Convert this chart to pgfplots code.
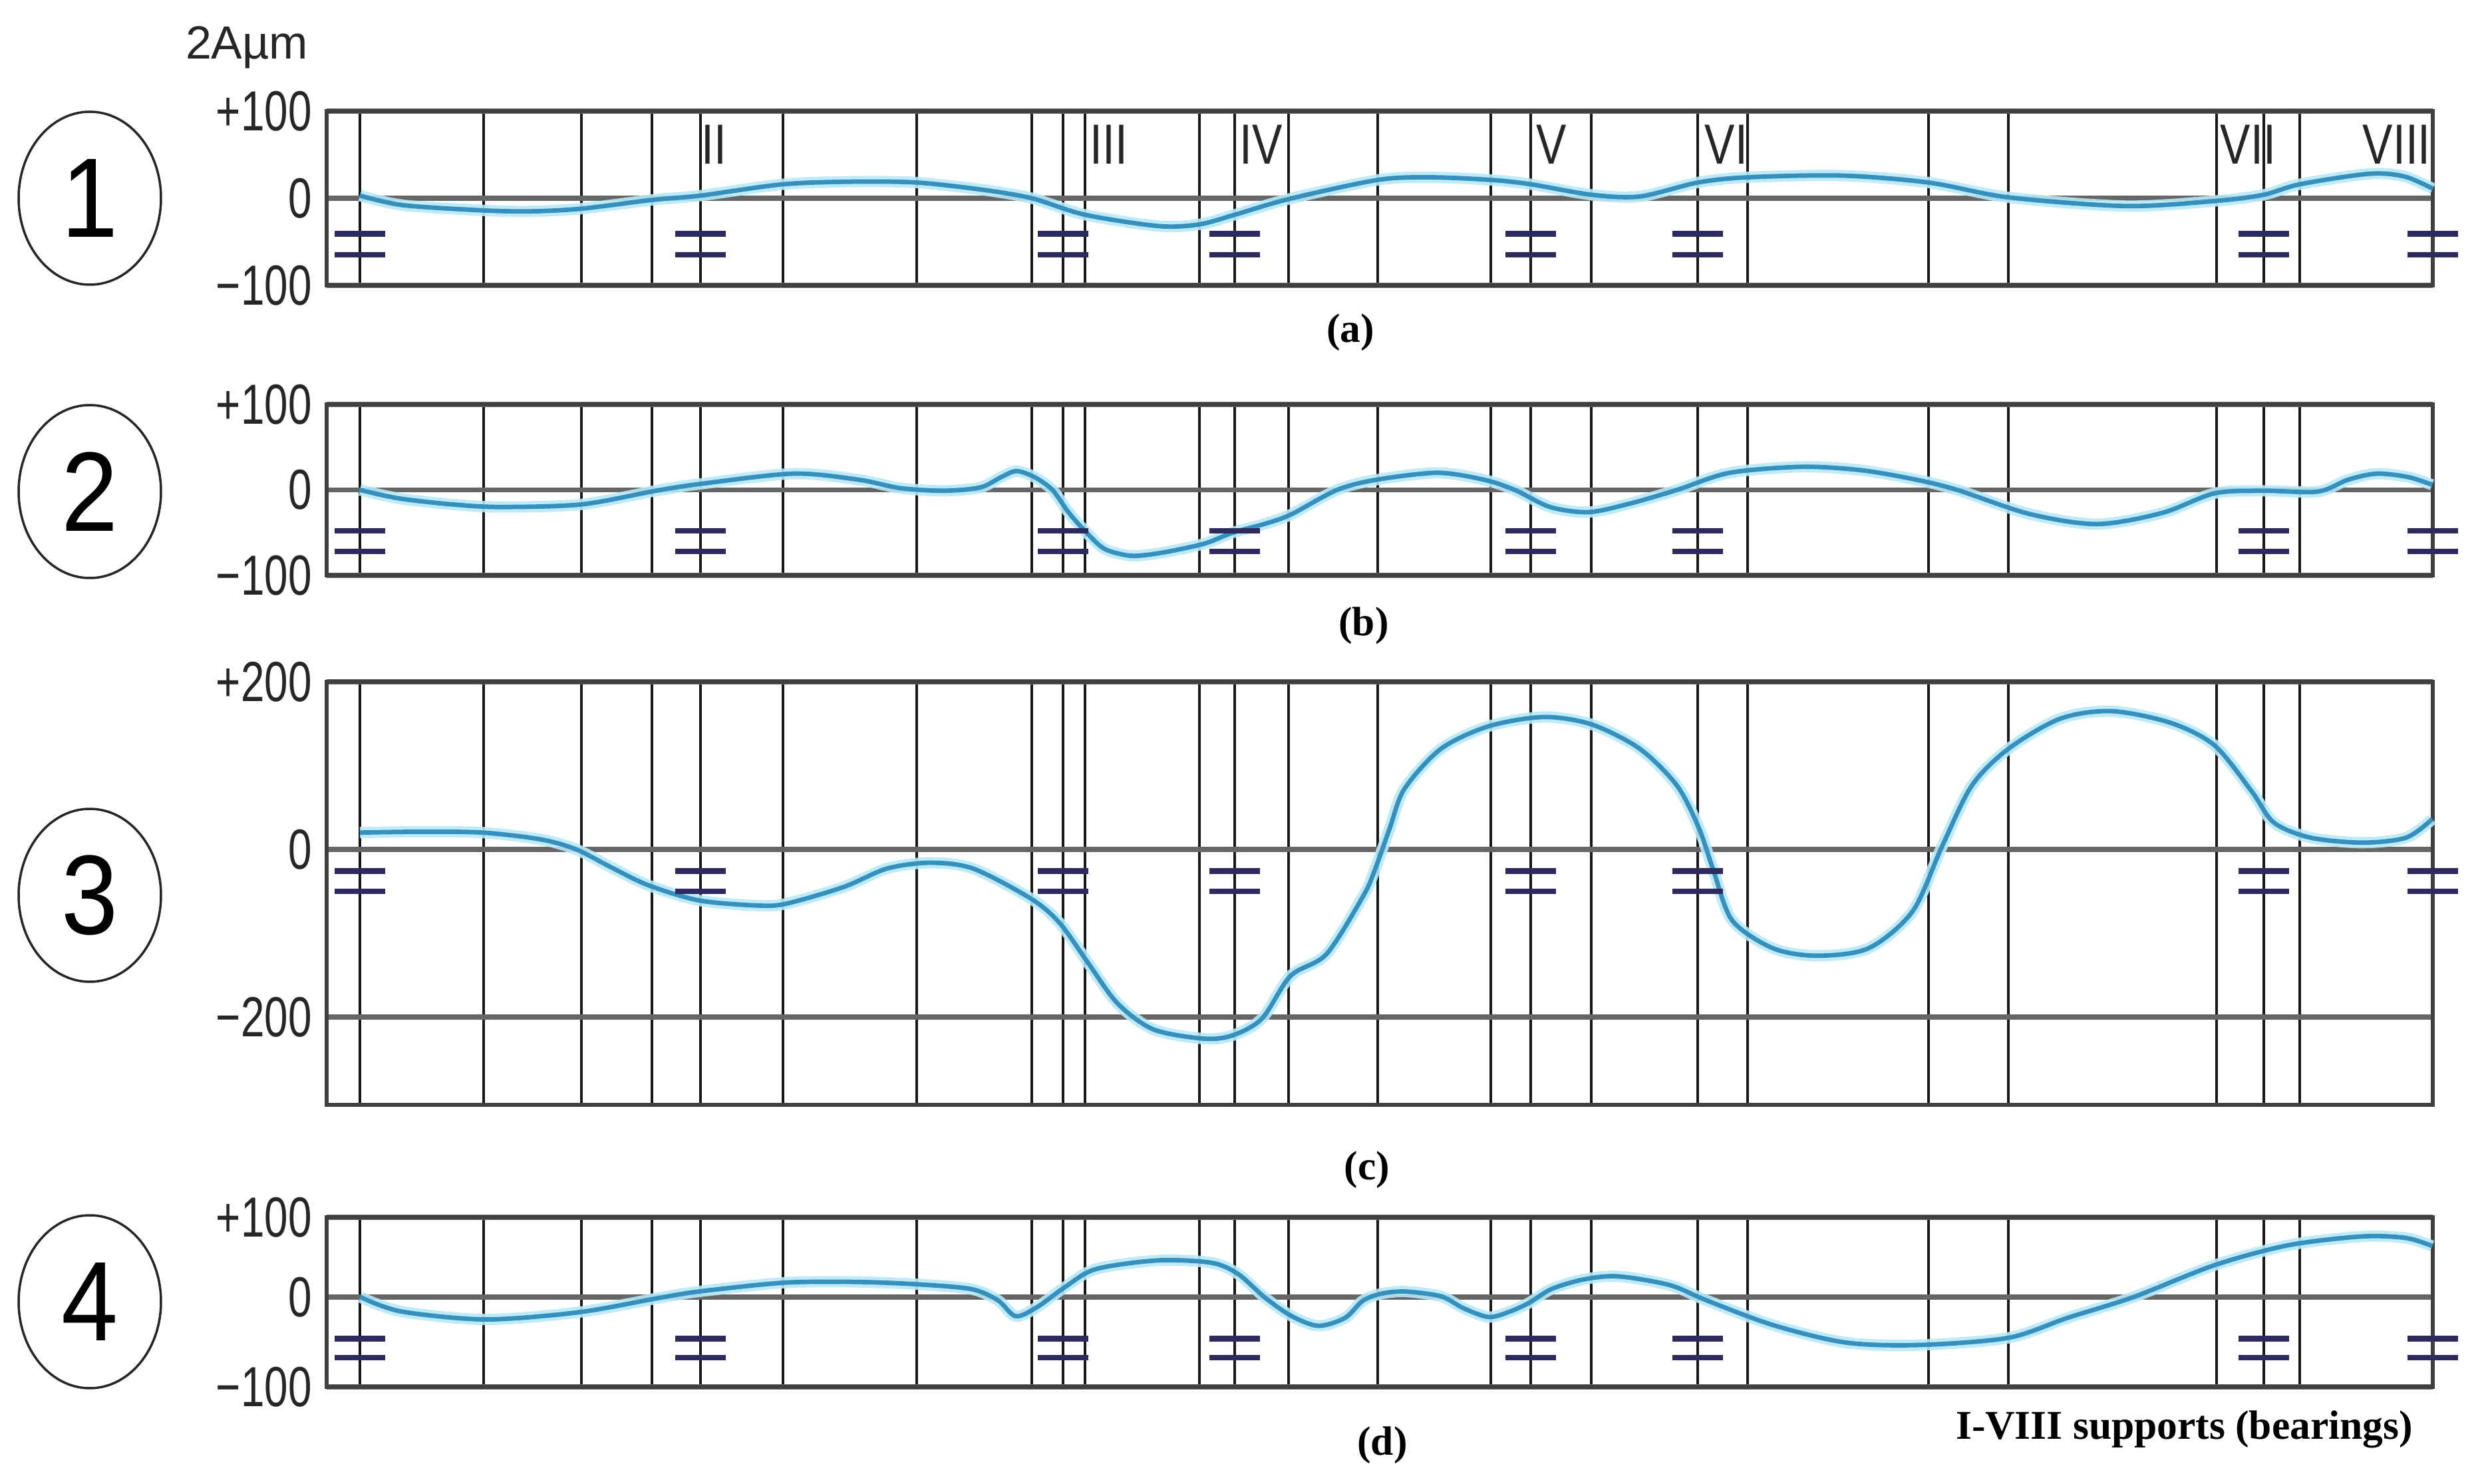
\documentclass[border=0pt]{standalone}
\usepackage{fontspec}
\setmainfont{Liberation Serif}
\newfontfamily\arial{Liberation Sans}
\usepackage{pgfplots}
\usepackage{pgfplotstable}
\pgfplotsset{compat=1.18}

\definecolor{curvecol}{HTML}{3590BE}
\definecolor{halocol}{HTML}{B8E8F7}
\definecolor{brgcol}{HTML}{2D2B5E}
\definecolor{framecol}{HTML}{404040}

\newcommand\ticklbl{\arial\fontsize{17}{18}\selectfont}
\newcommand\circlbl{\arial\fontsize{34}{36}\selectfont}
\newcommand\caplbl{\bfseries\fontsize{12.3}{14}\selectfont}

% x positions are in pixels of the original drawing (shaft length axis)
\pgfplotstableread{
x y
541 3
606 -8
727 -14
800 -15
874 -12
980 -2
1053 3
1177 16
1283 19
1378 18
1474 10
1551 0
1631 -19
1742 -32
1803 -30
1856 -19
1937 -1
2071 21
2150 24
2241 21
2301 16
2392 4
2465 2
2552 18
2627 24
2768 26
2899 18
3019 1
3196 -9
3332 -3
3403 4
3457 16
3561 28
3614 25
3657 11
}\curveA

\pgfplotstableread{
x y
541 0
600 -10
680 -17
752 -20
874 -17
986 -1
1053 7
1192 19
1290 12
1354 2
1420 -1
1474 3
1505 15
1528 22
1555 15
1582 0
1605 -25
1626 -44
1658 -68
1690 -76
1712 -77
1750 -73
1810 -63
1853 -50
1900 -40
1940 -29
2010 0
2070 12
2161 20
2230 12
2277 0
2330 -20
2388 -26
2450 -16
2521 0
2600 20
2709 27
2798 23
2880 12
2942 0
3050 -28
3152 -40
3250 -27
3329 -4
3403 -1
3484 -2
3530 12
3573 19
3620 15
3656 6
}\curveB

\pgfplotstableread{
x y
541 20
630 21
725 20
812 12
866 0
920 -22
975 -43
1051 -61
1137 -67
1181 -65
1268 -45
1333 -23
1398 -16
1463 -23
1550 -59
1593 -88
1636 -136
1680 -184
1734 -215
1810 -226
1853 -222
1897 -202
1940 -151
1994 -125
2049 -56
2066 -26
2089 25
2111 72
2166 120
2238 147
2321 158
2393 149
2465 120
2521 76
2554 25
2576 -26
2604 -85
2665 -118
2731 -127
2809 -118
2875 -74
2919 3
2964 76
3019 120
3097 156
3174 165
3263 151
3329 124
3385 69
3418 32
3473 14
3551 8
3617 14
3656 36
}\curveC

\pgfplotstableread{
x y
542 0
603 -18
730 -28
870 -19
991 -1
1051 7
1178 18
1286 19
1379 16
1460 10
1500 -4
1527 -24
1560 -12
1600 12
1647 35
1741 46
1821 43
1861 29
1902 -1
1942 -24
1982 -36
2022 -26
2048 -5
2075 4
2111 7
2166 1
2200 -14
2238 -25
2270 -18
2299 -7
2332 10
2380 22
2432 26
2510 15
2565 -4
2665 -35
2775 -57
2886 -60
3019 -51
3108 -26
3207 0
3329 40
3440 65
3551 76
3617 74
3656 64
}\curveD

\pgfplotsset{
  shaft/.style={
    scale only axis, width=633.2pt, anchor=south west,
    xmin=491, xmax=3657,
    xtick={541,727,874,980,1053,1177,1378,1551,1598,1631,1803,1856,1937,2071,2241,2301,2392,2552,2627,2899,3019,3332,3403,3457},
    xticklabels={},
    xmajorgrids, ymajorgrids,
    major tick length=0pt,
    every axis x grid/.append style={black!90, line width=0.7pt},
    every axis y grid/.append style={black!60, line width=1.5pt},
    axis line style={framecol, line width=1.3pt},
    yticklabel style={font=\ticklbl, xscale=0.75, inner sep=0pt, xshift=-5.8pt, text=black!85},
    clip=false,
  },
  halo/.style={halocol, line width=3.4pt, smooth, opacity=0.9},
  crv/.style={curvecol, line width=1.35pt, smooth},
  brg/.style={only marks, mark=-, mark size=7.6pt, mark options={brgcol, line width=1.7pt}},
}

\begin{document}
\begin{tikzpicture}
\useasboundingbox (0,0) rectangle (747.4pt,-446.2pt);

% panel 1
\begin{axis}[shaft, at={(98.2pt,-85.8pt)}, height=52.4pt,
  ymin=-100, ymax=100, ytick={-100,0,100}, yticklabels={−100,0,+100}]
\addplot[halo] table {\curveA};
\addplot[crv] table {\curveA};
\addplot[brg] coordinates {(541,-41) (541,-65) (1053,-41) (1053,-65) (1598,-41) (1598,-65) (1856,-41) (1856,-65)
  (2301,-41) (2301,-65) (2552,-41) (2552,-65) (3403,-41) (3403,-65) (3657,-41) (3657,-65)};
\begin{scope}[every node/.style={font=\ticklbl, xscale=0.8, anchor=base west, inner sep=0pt, text=black!85}]
\node at (axis cs:1054,39) {II};
\node at (axis cs:1638,39) {III};
\node at (axis cs:1863,39) {IV};
\node at (axis cs:2309,39) {V};
\node at (axis cs:2562,39) {VI};
\node at (axis cs:3337,39) {VII};
\node at (axis cs:3551,39) {VIII};
\end{scope}
\end{axis}

% panel 2
\begin{axis}[shaft, at={(98.2pt,-173pt)}, height=51.4pt,
  ymin=-100, ymax=100, ytick={-100,0,100}, yticklabels={−100,0,+100}]
\addplot[halo] table {\curveB};
\addplot[crv] table {\curveB};
\addplot[brg] coordinates {(541,-48) (541,-72) (1053,-48) (1053,-72) (1598,-48) (1598,-72) (1856,-48) (1856,-72)
  (2301,-48) (2301,-72) (2552,-48) (2552,-72) (3403,-48) (3403,-72) (3657,-48) (3657,-72)};
\end{axis}

% panel 3
\begin{axis}[shaft, at={(98.2pt,-332.2pt)}, height=127.2pt,
  ymin=-305, ymax=200, ytick={-200,0,200}, yticklabels={−200,0,+200}]
\addplot[halo] table {\curveC};
\addplot[crv] table {\curveC};
\addplot[brg] coordinates {(541,-26) (541,-50) (1053,-26) (1053,-50) (1598,-26) (1598,-50) (1856,-26) (1856,-50)
  (2301,-26) (2301,-50) (2552,-26) (2552,-50) (3403,-26) (3403,-50) (3657,-26) (3657,-50)};
\end{axis}

% panel 4
\begin{axis}[shaft, at={(98.2pt,-417pt)}, height=51pt,
  ymin=-112.5, ymax=100, ytick={-112.5,0,100}, yticklabels={−100,0,+100}]
\addplot[halo] table {\curveD};
\addplot[crv] table {\curveD};
\addplot[brg] coordinates {(541,-52) (541,-76) (1053,-52) (1053,-76) (1598,-52) (1598,-76) (1856,-52) (1856,-76)
  (2301,-52) (2301,-76) (2552,-52) (2552,-76) (3403,-52) (3403,-76) (3657,-52) (3657,-76)};
\end{axis}

% circled numbers
\foreach \n/\yy in {1/-59.6pt, 2/-147.8pt, 3/-269.2pt, 4/-391.4pt}{
  \draw[black!85, line width=0.7pt] (27pt,\yy) ellipse [x radius=21.4pt, y radius=26pt];
  \node[font=\circlbl, inner sep=0pt, xscale=0.9] at (27pt,\yy) {\n};
}

\node[font=\arial\fontsize{14}{15}\selectfont, anchor=base west, inner sep=0pt, text=black!85] at (55.6pt,-17.8pt) {2Aµm};

\node[font=\caplbl] at (406pt,-100pt) {(a)};
\node[font=\caplbl] at (410pt,-188.2pt) {(b)};
\node[font=\caplbl] at (411pt,-351.8pt) {(c)};
\node[font=\caplbl] at (415.6pt,-434.6pt) {(d)};
\node[font=\caplbl, anchor=base east, inner sep=0pt] at (725.6pt,-432.6pt) {I-VIII supports (bearings)};
\end{tikzpicture}
\end{document}
